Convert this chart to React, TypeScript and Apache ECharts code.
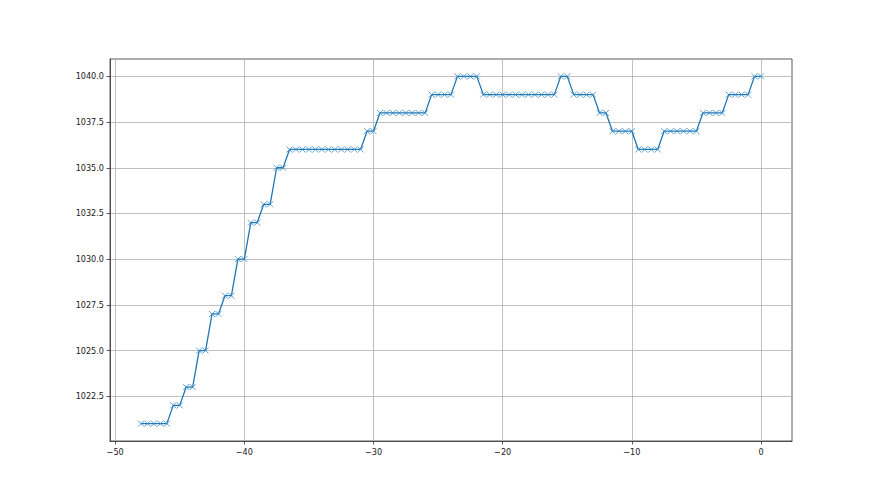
import React, { useEffect, useRef } from "react";
import * as echarts from "echarts";

const xValues: number[] = [
  -48, -47.5, -47, -46.5, -46, -45.5, -45, -44.5, -44, -43.5, -43, -42.5, -42, -41.5, -41, -40.5,
  -40, -39.5, -39, -38.5, -38, -37.5, -37, -36.5, -36, -35.5, -35, -34.5, -34, -33.5, -33, -32.5,
  -32, -31.5, -31, -30.5, -30, -29.5, -29, -28.5, -28, -27.5, -27, -26.5, -26, -25.5, -25, -24.5,
  -24, -23.5, -23, -22.5, -22, -21.5, -21, -20.5, -20, -19.5, -19, -18.5, -18, -17.5, -17, -16.5,
  -16, -15.5, -15, -14.5, -14, -13.5, -13, -12.5, -12, -11.5, -11, -10.5, -10, -9.5, -9, -8.5,
  -8, -7.5, -7, -6.5, -6, -5.5, -5, -4.5, -4, -3.5, -3, -2.5, -2, -1.5, -1, -0.5, 0,
];

const yValues: number[] = [
  1021, 1021, 1021, 1021, 1021,
  1022, 1022, 1023, 1023, 1025, 1025, 1027, 1027, 1028, 1028, 1030, 1030, 1032, 1032, 1033, 1033, 1035, 1035,
  1036, 1036, 1036, 1036, 1036, 1036, 1036, 1036, 1036, 1036, 1036, 1036,
  1037, 1037,
  1038, 1038, 1038, 1038, 1038, 1038, 1038, 1038,
  1039, 1039, 1039, 1039,
  1040, 1040, 1040, 1040,
  1039, 1039, 1039, 1039, 1039, 1039, 1039, 1039, 1039, 1039, 1039, 1039,
  1040, 1040,
  1039, 1039, 1039, 1039,
  1038, 1038,
  1037, 1037, 1037, 1037,
  1036, 1036, 1036, 1036,
  1037, 1037, 1037, 1037, 1037, 1037,
  1038, 1038, 1038, 1038,
  1039, 1039, 1039, 1039,
  1040, 1040,
];

const xTicks: number[] = [-50, -40, -30, -20, -10, 0];
const yTicks: number[] = [1022.5, 1025, 1027.5, 1030, 1032.5, 1035, 1037.5, 1040];

const X_MIN = -50.4;
const X_MAX = 2.4;
const Y_MIN = 1020.05;
const Y_MAX = 1040.95;

export default function App() {
  const ref = useRef<HTMLDivElement>(null);
  useEffect(() => {
    if (!ref.current) return;
    const chart = echarts.init(ref.current, undefined, { renderer: "svg" });
    const data = xValues.map((x, i) => [x, yValues[i]]);
    const labelStyle = {
      color: "#1a1a1a",
      fontFamily: "DejaVu Sans Condensed",
      fontSize: 9,
    };
    chart.setOption({
      animation: false,
      backgroundColor: "#fff",
      grid: {
        left: 110,
        right: 88,
        top: 59,
        bottom: 54,
        show: true,
        borderColor: "#333",
        borderWidth: 0.8,
        backgroundColor: "transparent",
      },
      xAxis: {
        type: "value",
        min: X_MIN,
        max: X_MAX,
        axisLine: { show: true, onZero: false, lineStyle: { color: "#333", width: 0.8 } },
        axisTick: {
          show: true,
          length: 3.5,
          customValues: xTicks,
          lineStyle: { color: "#333", width: 0.8 },
        },
        axisLabel: {
          ...labelStyle,
          margin: 6,
          customValues: xTicks,
          formatter: (v: number) => String(v).replace("-", "\u2212"),
        },
        splitLine: { show: true, lineStyle: { color: "#b0b0b0", width: 0.8 } },
      },
      yAxis: {
        type: "value",
        min: Y_MIN,
        max: Y_MAX,
        axisLine: { show: true, onZero: false, lineStyle: { color: "#333", width: 0.8 } },
        axisTick: {
          show: true,
          length: 3.5,
          customValues: yTicks,
          lineStyle: { color: "#333", width: 0.8 },
        },
        axisLabel: {
          ...labelStyle,
          margin: 6,
          customValues: yTicks,
          formatter: (v: number) => v.toFixed(1),
        },
        splitLine: { show: true, lineStyle: { color: "#b0b0b0", width: 0.8 } },
      },
      series: [
        {
          type: "line",
          data,
          symbol: "path://M0,0L10,10M10,0L0,10",
          symbolSize: 6,
          showAllSymbol: true,
          lineStyle: { color: "#1f77b4", width: 1.3 },
          itemStyle: { color: "none", borderColor: "#3a8cc8", borderWidth: 0.8 },
          emphasis: { disabled: true },
        },
      ],
    });
    return () => chart.dispose();
  }, []);
  return (
    <div
      ref={ref}
      style={{ position: "fixed", left: 0, top: 0, width: 880, height: 495 }}
    />
  );
}
